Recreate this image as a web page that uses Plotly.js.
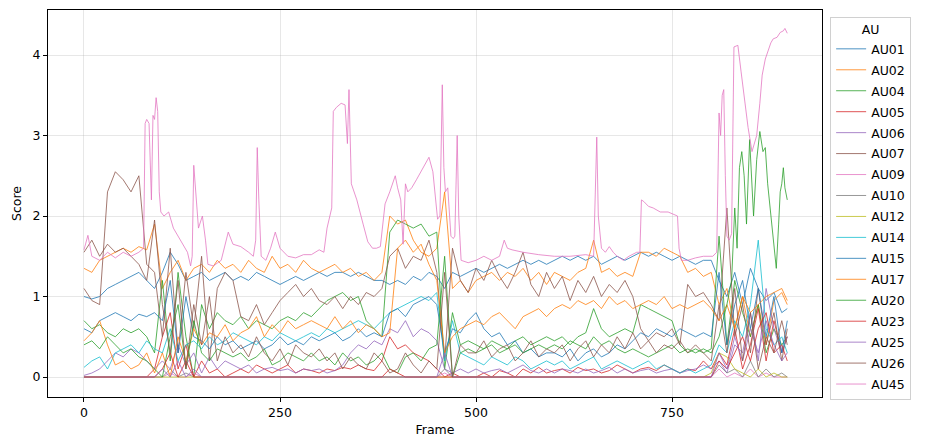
<!DOCTYPE html>
<html>
<head>
<meta charset="utf-8">
<script src="https://cdn.plot.ly/plotly-3.0.1.min.js"></script>
<style>
  body { margin: 0; background: #fff; }
  #chart { width: 926px; height: 448px; }
</style>
</head>
<body>
<div id="chart"></div>
<script>
// frame index shared by most of the AU series (read every 10 frames)
const frames = [
  0, 10, 20, 30, 40, 50, 60, 70, 80, 90,
  100, 110, 120, 130, 140, 150, 160, 170, 180, 190,
  200, 210, 220, 230, 240, 250, 260, 270, 280, 290,
  300, 310, 320, 330, 340, 350, 360, 370, 380, 390,
  400, 410, 420, 430, 440, 450, 460, 470, 480, 490,
  500, 510, 520, 530, 540, 550, 560, 570, 580, 590,
  600, 610, 620, 630, 640, 650, 660, 670, 680, 690,
  700, 710, 720, 730, 740, 750, 760, 770, 780, 790,
  800, 810, 820, 830, 840, 850, 860, 870, 880, 890,
  897
];

const au01 = [
  1.0, 0.97, 1.0, 1.1, 1.15, 1.2, 1.25, 1.3, 1.2, 1.1,
  1.3, 1.55, 1.4, 1.2, 1.25, 1.3, 1.2, 1.25, 1.3, 1.2,
  1.25, 1.2, 1.3, 1.25, 1.2, 1.15, 1.2, 1.25, 1.2, 1.25,
  1.3, 1.25, 1.3, 1.3, 1.25, 1.3, 1.25, 1.2, 1.2, 1.15,
  1.2, 1.15, 1.25, 1.2, 1.3, 1.25, 1.1, 1.3, 1.25, 1.3,
  1.35, 1.3, 1.35, 1.4, 1.35, 1.4, 1.45, 1.4, 1.45, 1.4,
  1.45, 1.5, 1.45, 1.5, 1.45, 1.5, 1.4, 1.45, 1.5, 1.45,
  1.5, 1.55, 1.5, 1.55, 1.5, 1.45, 1.5, 1.45, 1.4, 1.45,
  1.45, 1.2, 1.0, 1.3, 0.9, 1.35, 1.1, 0.95, 1.05, 0.8,
  0.85
];
const au02 = [
  1.35, 1.3, 1.45, 1.5, 1.55, 1.6, 1.55, 1.62, 1.58, 1.9,
  1.1, 1.3, 1.45, 1.2, 1.35, 1.4, 1.3, 1.45, 1.35, 1.4,
  1.3, 1.45, 1.35, 1.3, 1.5, 1.35, 1.4, 1.3, 1.45, 1.35,
  1.3, 1.35, 1.4, 1.3, 1.35, 1.25, 1.3, 1.2, 1.3, 2.0,
  1.9, 1.95, 1.7, 1.55, 1.5, 1.6, 2.3, 1.1, 1.2, 1.05,
  1.2, 1.25, 1.3, 1.2, 1.3, 1.25, 1.35, 1.2, 1.3, 1.15,
  1.3, 1.25, 1.2, 1.3, 1.35, 1.7, 1.3, 1.35, 1.25, 1.3,
  1.25, 1.55, 1.55, 1.5, 1.6, 1.55, 1.5, 1.3, 1.35, 1.25,
  1.3, 0.9, 1.1, 0.6, 1.0, 0.5, 0.9, 0.4, 0.95, 1.05,
  0.9
];
const au04 = [
  0.7, 0.6, 0.65, 0.55, 0.5, 0.6, 0.55, 0.6, 0.5, 0.3,
  1.2, 0.2, 1.3, 0.5, 0.0, 0.9, 0.6, 0.8, 0.7, 0.65,
  0.75, 0.6, 0.7, 0.65, 0.6, 0.7, 0.75, 0.7, 0.8, 0.75,
  0.85, 0.95, 1.0, 1.05, 0.95, 1.0, 0.7, 0.6, 0.5, 1.8,
  1.95, 1.9, 1.85, 1.9, 1.75, 1.8, 0.1, 0.8, 0.4, 0.45,
  0.4, 0.35, 0.45, 0.4, 0.35, 0.45, 0.5, 0.4, 0.45, 0.5,
  0.45, 0.5, 0.4, 0.5, 0.55, 0.85, 0.6, 0.5, 0.55, 0.6,
  0.55, 0.9, 0.85, 0.8, 0.75, 0.7, 0.4, 0.3, 0.35, 0.3,
  0.35, 1.75, 0.4, 1.2, 0.8, 0.5, 0.9, 0.3, 0.6, 0.4,
  0.5
];
const au05 = [
  0, 0, 0, 0, 0, 0, 0, 0, 0, 0.1,
  0.5, 0.8, 0.1, 0.4, 0, 0.2, 0.05, 0.1, 0, 0.05,
  0.1, 0.05, 0.15, 0.1, 0.05, 0.1, 0.15, 0.05, 0.1, 0.08,
  0.05, 0.1, 0.08, 0.12, 0.1, 0.15, 0.1, 0.08, 0.2, 0.5,
  0.35, 0.4, 0.3, 0.25, 0.2, 0.1, 0, 0.05, 0, 0,
  0, 0.05, 0, 0.08, 0.05, 0, 0.1, 0.05, 0.12, 0.05,
  0.08, 0.1, 0.05, 0.12, 0.08, 0.1, 0.05, 0.08, 0.15, 0.1,
  0.05, 0.1, 0.12, 0.08, 0.15, 0.1, 0.05, 0.1, 0.08, 0.2,
  0.1, 0.3, 0.15, 0.6, 0.1, 0.4, 0.85, 0.2, 0.7, 0.3,
  0.5
];
const au06 = [
  0.02, 0.05, 0.1, 0.2, 0.3, 0.25, 0.35, 0.3, 0.2, 0.1,
  0.2, 0.1, 0.4, 0.15, 0.3, 0.05, 0.25, 0.1, 0.2, 0.15,
  0.1, 0.15, 0.05, 0.1, 0.12, 0.08, 0.1, 0.05, 0.1, 0.08,
  0.1, 0.05, 0.08, 0.15, 0.3, 0.4, 0.35, 0.45, 0.4, 0.6,
  0.55, 0.7, 0.5, 0.6, 0.55, 0.45, 0.1, 0.05, 0.1, 0.05,
  0.1, 0.05, 0.08, 0.1, 0.05, 0.1, 0.15, 0.08, 0.05, 0.1,
  0.05, 0.1, 0.08, 0.05, 0.1, 0.05, 0.08, 0.12, 0.05, 0.1,
  0.05, 0.08, 0.1, 0.05, 0.08, 0.1, 0.05, 0.08, 0.1, 0.15,
  0.1, 0.2, 0.05, 0.4, 0.3, 0.8, 0.2, 1.1, 0.6, 0.3,
  0.5
];
const au07 = [
  1.1, 0.95, 0.9, 2.3, 2.55, 2.45, 2.3, 2.5, 1.4, 1.3,
  0.5, 1.6, 0.3, 1.3, 0.6, 1.5, 0.2, 1.1, 1.3, 1.2,
  0.75, 0.7, 0.9, 0.65, 0.8, 0.95, 1.05, 1.15, 1.0, 1.1,
  0.95, 0.9, 1.0, 0.85, 1.0, 0.9, 1.05, 1.0, 1.1, 1.5,
  1.6, 1.35, 1.5, 1.45, 1.7, 1.3, 0.2, 1.6, 1.2, 1.05,
  1.35, 1.2, 1.45, 1.25, 1.1, 1.3, 1.55, 1.15, 1.0, 1.3,
  1.1, 1.25, 0.95, 1.2, 1.05, 1.25, 1.0, 1.15, 1.05, 1.2,
  1.0, 0.6, 0.45, 0.55, 0.5, 0.6, 0.4, 1.15, 1.0, 1.05,
  0.9, 0.7, 2.1, 0.5, 0.9, 0.3, 1.1, 0.4, 0.8, 0.2,
  0.6
];
const au09 = [
  0, 0, 0, 0, 0, 0, 0, 0, 0, 0,
  0, 0.05, 0, 0, 0.05, 0, 0, 0, 0, 0,
  0, 0, 0, 0, 0, 0, 0, 0, 0, 0,
  0, 0, 0, 0, 0, 0, 0, 0, 0, 0,
  0, 0, 0, 0, 0, 0, 0.05, 0, 0, 0,
  0, 0, 0, 0, 0, 0, 0, 0, 0, 0,
  0, 0, 0, 0, 0, 0, 0, 0, 0, 0,
  0, 0, 0, 0, 0, 0, 0, 0, 0, 0,
  0, 0.1, 0, 0.05, 0, 0.1, 0, 0.05, 0, 0,
  0
];
const au10 = [
  0, 0, 0, 0, 0, 0, 0, 0, 0, 0,
  0, 0.1, 0, 0.05, 0, 0, 0, 0, 0, 0,
  0, 0, 0, 0, 0, 0, 0, 0, 0, 0,
  0, 0, 0, 0, 0, 0, 0, 0, 0, 0,
  0, 0, 0, 0, 0, 0, 0.1, 0, 0, 0,
  0, 0, 0, 0, 0, 0, 0, 0, 0, 0,
  0, 0, 0, 0, 0, 0, 0, 0, 0, 0,
  0, 0, 0, 0, 0, 0, 0, 0, 0, 0,
  0, 0.15, 0.05, 0.1, 0, 0.2, 0, 0.1, 0, 0.05,
  0
];
const au12 = [
  0, 0, 0, 0, 0, 0, 0, 0, 0, 0,
  0, 0, 0, 0, 0, 0, 0, 0, 0, 0,
  0, 0, 0, 0, 0, 0, 0, 0, 0, 0,
  0, 0, 0, 0, 0, 0, 0, 0, 0, 0,
  0, 0, 0, 0, 0, 0, 0, 0, 0, 0,
  0, 0, 0, 0, 0, 0, 0, 0, 0, 0,
  0, 0, 0, 0, 0, 0, 0, 0, 0, 0,
  0, 0, 0, 0, 0, 0, 0, 0, 0, 0,
  0.05, 0.3, 0.25, 0.1, 0.05, 0, 0.1, 0, 0.05, 0,
  0
];
const au14 = [
  0.12, 0.2, 0.25, 0.1, 0.3, 0.35, 0.4, 0.3, 0.45, 0.35,
  0.3, 0.6, 0.2, 0.4, 0.45, 0.35, 0.5, 0.4, 0.45, 0.55,
  0.5, 0.45, 0.4, 0.5, 0.45, 0.55, 0.5, 0.45, 0.5, 0.55,
  0.5, 0.6, 0.55, 0.6, 0.65, 0.7, 0.65, 0.6, 0.7, 0.8,
  0.85, 0.9, 0.95, 1.0, 0.95, 1.05, 0.2, 0.7, 0.3, 0.25,
  0.2, 0.15, 0.25, 0.2, 0.15, 0.25, 0.2, 0.1, 0.15, 0.2,
  0.15, 0.2, 0.1, 0.15, 0.2, 0.25, 0.1, 0.15, 0.2, 0.15,
  0.1, 0.15, 0.2, 0.1, 0.15, 0.1, 0.05, 0.1, 0.05, 0.1,
  0.15, 0.4, 0.3, 0.7, 0.5, 0.9, 1.7, 0.6, 0.4, 0.5,
  0.3
];
const au15 = [
  0.6, 0.55, 0.7, 0.75, 0.8, 0.75, 0.7, 0.78, 0.75, 0.8,
  0.7, 1.2, 0.3, 1.0, 0.5, 0.45, 0.35, 0.5, 0.4, 0.45,
  0.35, 0.4, 0.45, 0.35, 0.4, 0.5, 0.4, 0.45, 0.4, 0.5,
  0.45, 0.5, 0.55, 0.45, 0.5, 0.6, 0.5, 0.55, 0.5, 0.8,
  0.85, 0.75, 0.9, 0.95, 1.0, 0.9, 0.3, 0.6, 0.55, 0.7,
  0.8, 0.6, 0.5, 0.55, 0.4, 0.45, 0.3, 0.35, 0.25, 0.3,
  0.3, 0.25, 0.35, 0.2, 0.3, 0.35, 0.25, 0.3, 0.4, 0.35,
  0.45, 0.55, 0.5, 0.6, 0.55, 0.5, 0.6, 0.55, 0.5, 0.55,
  0.5, 1.3, 0.4, 0.9, 1.2, 0.6, 1.1, 0.5, 1.0, 0.3,
  0.7
];
const au17 = [
  0.45, 0.55, 0.7, 0.4, 0.15, 0.2, 0.1, 0.15, 0.3, 0.05,
  0.3, 0.0, 0.5, 0.2, 0.6, 0.4, 0.55, 0.5, 0.65, 0.45,
  0.55, 0.6, 0.75, 0.5, 0.65, 0.55, 0.7, 0.6, 0.65, 0.7,
  0.65, 0.6, 0.75, 0.6, 0.7, 0.55, 0.65, 0.6, 0.5, 0.55,
  1.6, 1.7, 1.55, 1.65, 1.4, 1.2, 0.3, 0.5, 0.6, 0.65,
  0.7, 0.65, 0.75, 0.8, 0.7, 0.6, 0.75, 0.8, 0.85, 0.75,
  0.85, 0.9, 0.85, 0.95, 0.9, 0.95, 0.85, 1.0, 0.9, 0.95,
  0.85, 0.9, 0.95, 0.9, 1.0, 0.85, 0.9, 0.85, 0.9, 0.95,
  0.85, 0.7, 0.9, 0.6, 1.0, 0.8, 0.9, 1.0, 1.05, 1.1,
  0.95
];
const au23 = [
  0, 0, 0, 0, 0, 0, 0, 0, 0, 0,
  0.1, 0.3, 0, 0.2, 0, 0, 0, 0, 0, 0,
  0, 0, 0, 0, 0, 0, 0, 0, 0, 0,
  0, 0, 0, 0, 0, 0, 0, 0, 0, 0.1,
  0.05, 0, 0, 0, 0, 0, 0, 0, 0, 0,
  0, 0, 0, 0, 0, 0, 0, 0, 0, 0,
  0, 0, 0, 0, 0, 0, 0, 0, 0, 0,
  0, 0, 0, 0, 0, 0, 0, 0, 0, 0,
  0, 0.2, 0.1, 0.3, 0.5, 0.2, 0.6, 0.8, 0.3, 0.4,
  0.2
];
const au25 = [
  0, 0, 0, 0, 0, 0, 0, 0, 0, 0,
  0.1, 0, 0.2, 0, 0.1, 0, 0, 0, 0, 0,
  0, 0, 0, 0, 0, 0, 0, 0, 0, 0,
  0, 0, 0, 0, 0, 0, 0, 0, 0, 0,
  0, 0, 0, 0, 0, 0, 0.3, 0, 0, 0,
  0, 0, 0, 0, 0, 0, 0, 0, 0, 0,
  0, 0, 0, 0, 0, 0, 0, 0, 0, 0,
  0, 0, 0, 0, 0, 0, 0, 0, 0, 0,
  0, 0.3, 0.1, 0.5, 0.2, 0.6, 0.3, 0.7, 0.4, 0.2,
  0.3
];
const au26 = [
  1.55, 1.7, 1.5, 1.65, 1.55, 1.6, 1.5, 1.4, 1.2, 1.95,
  0.9, 0.3, 1.2, 0.1, 0.9, 0.4, 1.0, 0.2, 0.5, 0.3,
  0.4, 0.25, 0.5, 0.3, 0.2, 0.35, 0.15, 0.4, 0.3, 0.25,
  0.35, 0.2, 0.3, 0.1, 0.25, 0.15, 0.1, 0.3, 0.2, 0.05,
  0.1, 0.3, 0.15, 0.05, 0.2, 0.1, 1.3, 0.0, 0.4, 0.3,
  0.3, 0.45, 0.25, 0.35, 0.4, 0.2, 0.3, 0.45, 0.25, 0.35,
  0.3, 0.4, 0.2, 0.35, 0.45, 0.25, 0.4, 0.3, 0.5, 0.35,
  0.55, 0.35, 0.45, 0.3, 0.4, 0.35, 0.45, 0.3, 0.4, 0.3,
  0.2, 0.9, 0.3, 1.1, 0.2, 0.8, 0.1, 0.5, 0.3, 0.7,
  0.4
];

// AU20 needs finer frames at the end, where it climbs to ~3
const framesAu20 = [
  0, 10, 20, 30, 40, 50, 60, 70, 80, 90,
  100, 110, 120, 130, 140, 150, 160, 170, 180, 190,
  200, 210, 220, 230, 240, 250, 260, 270, 280, 290,
  300, 310, 320, 330, 340, 350, 360, 370, 380, 390,
  400, 410, 420, 430, 440, 450, 460, 470, 480, 490,
  500, 510, 520, 530, 540, 550, 560, 570, 580, 590,
  600, 610, 620, 630, 640, 650, 660, 670, 680, 690,
  700, 710, 720, 730, 740, 750, 760, 770, 780, 790,
  800, 810, 820, 826, 830, 833, 836, 839, 842, 845,
  849, 854, 858, 862, 866, 869, 872, 875, 879, 883,
  886, 888, 890, 892, 894, 897
];
const au20 = [
  0.4, 0.45, 0.35, 0.5, 0.4, 0.3, 0.35, 0.25, 0.2, 0.1,
  0.0, 0.5, 0.9, 0.1, 0.7, 0.3, 0.2, 0.35, 0.3, 0.25,
  0.3, 0.2, 0.25, 0.35, 0.15, 0.2, 0.3, 0.25, 0.2, 0.3,
  0.2, 0.25, 0.15, 0.3, 0.2, 0.25, 0.15, 0.2, 0.3, 0.1,
  0.05, 0.25, 0.3, 0.2, 0.35, 0.4, 1.5, 0.0, 0.3, 0.35,
  0.3, 0.35, 0.4, 0.3, 0.35, 0.4, 0.3, 0.35, 0.4, 0.35,
  0.4, 0.35, 0.45, 0.4, 0.35, 0.5, 0.4, 0.45, 0.35, 0.3,
  0.35, 0.3, 0.25, 0.3, 0.35, 0.4, 0.3, 0.35, 0.3, 0.35,
  0.3, 0.5, 0.9, 1.2, 2.1, 1.6, 2.6, 2.8, 2.5, 1.9,
  2.95, 2.0, 2.7, 3.05, 2.8, 2.85, 2.4, 2.1, 1.7, 1.35,
  1.9, 2.3, 2.4, 2.6, 2.35, 2.2
];

// AU45 has the sharp spikes, so it gets its own frame list
const framesAu45 = [
  0, 5, 10, 20, 30, 40, 50, 60, 70, 76, 78, 80, 83, 86, 88, 90, 92, 94, 96, 98,
  102, 108, 114, 120, 126, 132, 136, 138, 140, 142, 146, 151, 155, 158, 165, 175, 184, 190, 200, 210,
  216, 219, 221, 223, 226, 232, 238, 244, 250, 260, 270, 280, 290, 300, 306, 310, 316, 318, 322, 328,
  333, 336, 338, 341, 348, 356, 362, 368, 373, 378, 384, 390, 397, 400, 404, 407, 410, 413, 418, 424,
  430, 436, 440, 445, 451, 454, 457, 459, 461, 464, 468, 471, 473, 476, 478, 481, 490, 500, 510, 520,
  530, 536, 540, 546, 560, 580, 600, 620, 640, 650, 652, 654, 656, 660, 665, 670, 675, 680, 688, 695,
  705, 709, 711, 714, 720, 726, 735, 745, 757, 759, 762, 770, 780, 790, 802, 807, 810, 812, 814, 816,
  818, 820, 823, 826, 829, 834, 838, 843, 847, 852, 858, 862, 865, 869, 872, 876, 879, 884, 888, 892,
  894, 897
];
const au45 = [
  1.58, 1.76, 1.5, 1.45, 1.55, 1.48, 1.55, 1.5, 1.55, 1.6, 3.15, 3.2, 3.15, 2.2, 3.25, 3.2, 3.47, 3.3, 2.3, 2.05,
  2.0, 2.05, 1.85, 1.75, 1.65, 1.55, 1.38, 1.5, 2.63, 2.4, 1.85, 2.0, 1.7, 1.4, 1.38, 1.45, 1.8, 1.65, 1.62, 1.55,
  1.5, 1.7, 2.85, 2.2, 1.5, 1.45, 1.6, 1.8, 1.6, 1.5, 1.48, 1.52, 1.52, 1.58, 1.55, 1.85, 2.1, 3.3, 3.35, 3.4,
  3.38, 2.9, 3.57, 2.4, 2.2, 1.9, 1.68, 1.6, 1.6, 1.62, 2.15, 2.3, 2.5, 2.35, 2.2, 1.65, 2.4, 2.3, 2.35, 2.45,
  2.55, 2.65, 2.73, 2.55, 1.96, 2.0, 3.63, 2.6, 2.3, 2.35, 1.75, 1.72, 1.75, 3.0, 2.0, 1.45, 1.42, 1.45, 1.5, 1.45,
  1.5, 1.7, 1.6, 1.58, 1.55, 1.52, 1.5, 1.5, 1.52, 1.5, 2.2, 2.98, 2.0, 1.6, 1.55, 1.62, 1.55, 1.5, 1.45, 1.5,
  1.55, 1.55, 2.2, 2.18, 2.12, 2.1, 2.05, 2.05, 2.0, 1.6, 1.45, 1.45, 1.48, 1.5, 1.5, 1.55, 3.28, 3.0, 3.5, 3.57,
  2.5, 1.75, 1.7, 1.78, 4.1, 4.12, 3.8, 3.4, 3.1, 2.8, 3.0, 3.4, 3.75, 3.95, 4.05, 4.15, 4.2, 4.22, 4.28, 4.3,
  4.33, 4.27
];

const auNames = ['AU01', 'AU02', 'AU04', 'AU05', 'AU06', 'AU07', 'AU09', 'AU10', 'AU12',
                 'AU14', 'AU15', 'AU17', 'AU20', 'AU23', 'AU25', 'AU26', 'AU45'];
const auValues = [au01, au02, au04, au05, au06, au07, au09, au10, au12,
                  au14, au15, au17, au20, au23, au25, au26, au45];
const auFrames = [frames, frames, frames, frames, frames, frames, frames, frames, frames,
                  frames, frames, frames, framesAu20, frames, frames, frames, framesAu45];

// matplotlib tab10 cycle
const palette = ['#1f77b4', '#ff7f0e', '#2ca02c', '#d62728', '#9467bd',
                 '#8c564b', '#e377c2', '#7f7f7f', '#bcbd22', '#17becf'];

// one legend group per trace so tracegroupgap sets the row spacing
const data = auNames.map((name, i) => ({
    x: auFrames[i],
    y: auValues[i],
    type: 'scatter',
    mode: 'lines',
    name: name,
    legendgroup: name,
    line: { color: palette[i % palette.length], width: 0.8 },
    hoverinfo: 'skip'
}));

const font = { family: 'DejaVu Sans, sans-serif', size: 12.5, color: '#000' };

const axisBase = {
    showline: true,
    linecolor: '#000',
    linewidth: 1,
    mirror: true,
    ticks: 'outside',
    ticklen: 4,
    tickwidth: 1,
    tickcolor: '#000',
    showgrid: true,
    gridcolor: 'rgba(176,176,176,0.3)',
    gridwidth: 1,
    zeroline: false,
    tickfont: font
};

const layout = {
    width: 926,
    height: 448,
    margin: { l: 48, r: 104, t: 10, b: 51 },
    paper_bgcolor: '#fff',
    plot_bgcolor: '#fff',
    font: font,
    showlegend: true,
    xaxis: Object.assign({}, axisBase, {
        range: [-45.9, 941.3],
        tickvals: [0, 250, 500, 750],
        title: { text: 'Frame', font: font, standoff: 6 }
    }),
    yaxis: Object.assign({}, axisBase, {
        range: [-0.248, 4.559],
        tickvals: [0, 1, 2, 3, 4],
        title: { text: 'Score', font: font, standoff: 8 }
    }),
    legend: {
        x: 1.0105,
        y: 0.982,
        xanchor: 'left',
        yanchor: 'top',
        bordercolor: '#d0d0d0',
        borderwidth: 1,
        bgcolor: '#fff',
        font: font,
        title: { text: 'AU', side: 'top center', font: font },
        itemwidth: 30,
        tracegroupgap: 1.7
    }
};

Plotly.newPlot('chart', data, layout, { displayModeBar: false, staticPlot: true });
</script>
</body>
</html>
